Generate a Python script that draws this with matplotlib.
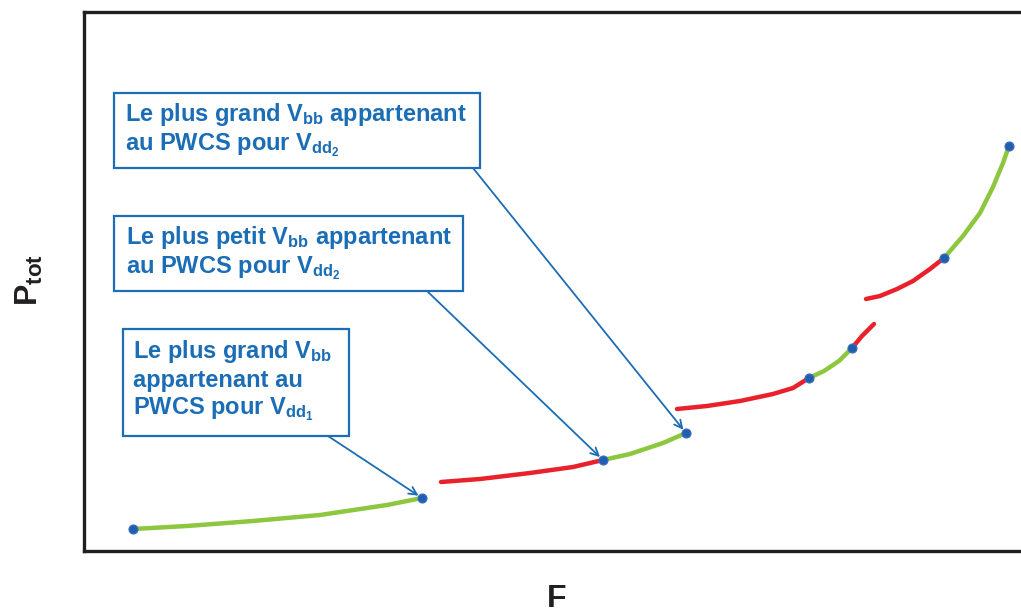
import matplotlib
matplotlib.use('Agg')
import matplotlib.pyplot as plt
from matplotlib.patches import Rectangle

plt.rcParams['font.family'] = ['Liberation Sans', 'DejaVu Sans']
plt.rcParams['font.weight'] = 'bold'
plt.rcParams['mathtext.fontset'] = 'custom'
plt.rcParams['mathtext.rm'] = 'Liberation Sans:bold'
plt.rcParams['mathtext.bf'] = 'Liberation Sans:bold'
plt.rcParams['mathtext.default'] = 'bf'

# P_tot(F) pieces: green = inside the PWCS, red = outside
green_F = [[49, 103, 169, 236, 303, 338],
           [519, 546, 579, 602],
           [725, 740, 755, 768],
           [860, 879, 896, 909, 919, 925]]
green_P = [[22, 25, 30, 36, 46, 53],
           [91, 97, 108, 118],
           [173, 180, 190, 203],
           [293, 315, 338, 364, 388, 405]]
red_F = [[357, 396, 446, 489, 519],
         [593, 623, 656, 689, 709, 725],
         [768, 778, 790],
         [782, 796, 813, 829, 846, 860]]
red_P = [[69, 72, 78, 84, 91],
         [142, 145, 150, 157, 163, 173],
         [203, 215, 227],
         [252, 255, 262, 270, 282, 293]]

labels = [r'Le plus grand V$_{bb}$ appartenant' + '\n' + r'au PWCS pour V$_{dd_2}$',
          r'Le plus petit V$_{bb}$ appartenant' + '\n' + r'au PWCS pour V$_{dd_2}$',
          r'Le plus grand V$_{bb}$' + '\n' + 'appartenant au' + '\n' + r'PWCS pour V$_{dd_1}$']
# point each label refers to (F, P)
targets = [(602, 118), (519, 91), (338, 53)]

blue = '#1b6db5'
green = '#8dc63f'
red = '#e8212b'
dot = '#1f5fae'

fig = plt.figure(figsize=(10.21, 6.13), dpi=100)
ax = fig.add_axes([84 / 1021, 62 / 613, 945 / 1021, 539 / 613])
ax.set_xlim(0, 945)
ax.set_ylim(0, 539)
ax.set_xticks([])
ax.set_yticks([])
ax.spines['right'].set_visible(False)
for s in ['left', 'top', 'bottom']:
    ax.spines[s].set_linewidth(2.4)
    ax.spines[s].set_color('#231f20')

for f, p in zip(red_F, red_P):
    ax.plot(f, p, color=red, lw=3.2, solid_capstyle='round', solid_joinstyle='round', zorder=2)
for f, p in zip(green_F, green_P):
    ax.plot(f, p, color=green, lw=3.2, solid_capstyle='round', solid_joinstyle='round', zorder=3)
    ax.plot([f[0], f[-1]], [p[0], p[-1]], 'o', color=dot, markersize=6.5,
            markeredgecolor='#3b70c2', markeredgewidth=0.8, zorder=5)

# boxes: (left, top, right, bottom) in axes data units, then text anchor
boxes = [(30, 458, 396, 383), (30, 335, 379, 260), (39, 222, 265, 115)]
text_xy = [(41, 450), (42, 327), (49, 213)]
arrow_start = [(389, 383), (343, 260), (244, 115)]

for (l, t, r, b), (tx, ty), lab, st, tg in zip(boxes, text_xy, labels, arrow_start, targets):
    ax.add_patch(Rectangle((l, b), r - l, t - b, fill=False, edgecolor=blue, lw=1.6, zorder=4))
    ax.text(tx, ty, lab, color=blue, fontsize=17, fontweight='bold', va='top', ha='left',
            linespacing=1.2, zorder=4)
    ax.annotate('', xy=tg, xytext=st,
                arrowprops=dict(arrowstyle='->', color=blue, lw=1.3, shrinkA=0, shrinkB=3,
                                mutation_scale=14), zorder=4)

fig.text(29 / 1021, 1 - 280 / 613, r'P$_{tot}$', rotation=90, fontsize=23, fontweight='bold',
         ha='center', va='center', color='#231f20')
fig.text(557 / 1021, 1 - 584 / 613, 'F', fontsize=23, fontweight='bold',
         ha='center', va='top', color='#231f20')

fig.savefig('out.png', dpi=100)
